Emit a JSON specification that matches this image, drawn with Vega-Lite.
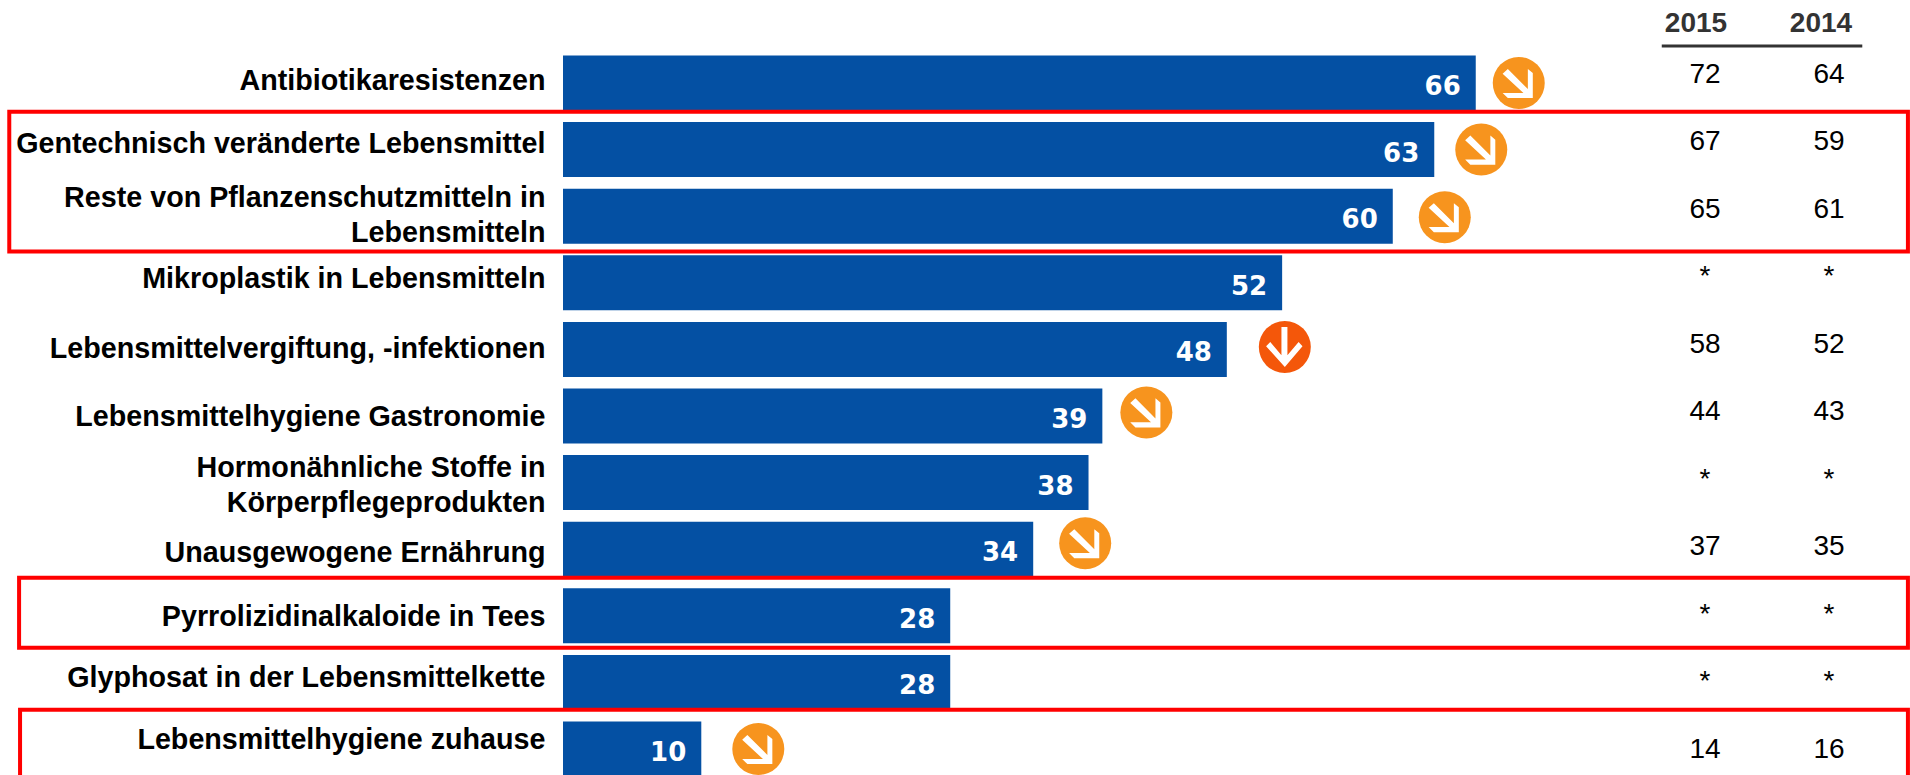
{
"$schema":"https://vega.github.io/schema/vega-lite/v6.json",
"width":1910,"height":775,"autosize":"none","padding":0,
"background":"white",
"config":{"view":{"stroke":null},"font":"Liberation Sans"},
"datasets":{
"rows":[
{"item":"Antibiotikaresistenzen","wert":66,"trend":"leicht","w2015":"72","w2014":"64"},
{"item":"Gentechnisch veränderte Lebensmittel","wert":63,"trend":"leicht","w2015":"67","w2014":"59"},
{"item":"Reste von Pflanzenschutzmitteln in|Lebensmitteln","wert":60,"trend":"leicht","w2015":"65","w2014":"61"},
{"item":"Mikroplastik in Lebensmitteln","wert":52,"trend":null,"w2015":"*","w2014":"*"},
{"item":"Lebensmittelvergiftung, -infektionen","wert":48,"trend":"stark","w2015":"58","w2014":"52"},
{"item":"Lebensmittelhygiene Gastronomie","wert":39,"trend":"leicht","w2015":"44","w2014":"43"},
{"item":"Hormonähnliche Stoffe in|Körperpflegeprodukten","wert":38,"trend":null,"w2015":"*","w2014":"*"},
{"item":"Unausgewogene Ernährung","wert":34,"trend":"leicht","w2015":"37","w2014":"35"},
{"item":"Pyrrolizidinalkaloide in Tees","wert":28,"trend":null,"w2015":"*","w2014":"*"},
{"item":"Glyphosat in der Lebensmittelkette","wert":28,"trend":null,"w2015":"*","w2014":"*"},
{"item":"Lebensmittelhygiene zuhause","wert":10,"trend":"leicht","w2015":"14","w2014":"16"}
],
"boxes":[
{"links":-40.04,"rechts":97.25,"von":0.93,"bis":3.03},
{"links":-39.33,"rechts":97.25,"von":7.93,"bis":8.98},
{"links":-39.26,"rechts":97.25,"von":9.91,"bis":11.5}
]
},
"resolve":{"scale":{"x":"independent","y":"independent","shape":"independent","color":"independent"}},
"layer":[
{
"data":{"name":"rows"},
"mark":{"type":"bar","color":"#0450A3"},
"encoding":{
"x":{"field":"wert","type":"quantitative","scale":{"domain":[-40.71,97.4],"range":[0,1910],"nice":false,"zero":false},"axis":null},
"y":{"field":"item","type":"nominal","sort":null,
"scale":{"range":[49.7,782.3],"paddingInner":0.174,"paddingOuter":0.087},
"axis":{"orient":"left","offset":-545,"title":null,"domain":false,"ticks":false,"labelPadding":0,
"labelOffset":{"expr":"{'Antibiotikaresistenzen':-1.6,'Gentechnisch veränderte Lebensmittel':-5.2,'Reste von Pflanzenschutzmitteln in|Lebensmitteln':-18.5,'Mikroplastik in Lebensmitteln':-4,'Lebensmittelvergiftung, -infektionen':-0.4,'Lebensmittelhygiene Gastronomie':1,'Hormonähnliche Stoffe in|Körperpflegeprodukten':-15,'Unausgewogene Ernährung':3.3,'Pyrrolizidinalkaloide in Tees':1,'Glyphosat in der Lebensmittelkette':-4,'Lebensmittelhygiene zuhause':-9}[datum.value]"},
"labelFont":"Liberation Sans","labelFontWeight":"bold","labelFontSize":28.7,"labelColor":"#000000","labelLimit":700,"labelLineHeight":35,"labelExpr":"split(datum.label,'|')"}}
}
},
{
"data":{"name":"rows"},
"mark":{"type":"text","align":"right","baseline":"middle","dx":-15,"dy":4,"font":"DejaVu Sans","fontWeight":"bold","fontSize":26,"color":"white"},
"encoding":{
"x":{"field":"wert","type":"quantitative","scale":{"domain":[-40.71,97.4],"range":[0,1910],"nice":false,"zero":false},"axis":null},
"y":{"field":"item","type":"nominal","sort":null,"scale":{"range":[49.7,782.3],"paddingInner":0.174,"paddingOuter":0.087},"axis":null},
"text":{"field":"wert","type":"quantitative"}
}
},
{
"data":{"name":"rows"},
"transform":[{"filter":"datum.trend != null"}],
"mark":{"type":"point","filled":true,"shape":"circle","size":2704,"opacity":1,"xOffset":{"expr":"{'66':43,'63':47,'60':52,'48':58,'39':44,'34':52,'10':57}[datum.wert]"},"yOffset":{"expr":"{'66':0,'63':0,'60':1,'48':-2.4,'39':-3.6,'34':-6,'10':0}[datum.wert]"}},
"encoding":{
"x":{"field":"wert","type":"quantitative","scale":{"domain":[-40.71,97.4],"range":[0,1910],"nice":false,"zero":false},"axis":null},
"y":{"field":"item","type":"nominal","sort":null,"scale":{"domain":["Antibiotikaresistenzen","Gentechnisch veränderte Lebensmittel","Reste von Pflanzenschutzmitteln in|Lebensmitteln","Mikroplastik in Lebensmitteln","Lebensmittelvergiftung, -infektionen","Lebensmittelhygiene Gastronomie","Hormonähnliche Stoffe in|Körperpflegeprodukten","Unausgewogene Ernährung","Pyrrolizidinalkaloide in Tees","Glyphosat in der Lebensmittelkette","Lebensmittelhygiene zuhause"],"range":[49.7,782.3],"paddingInner":0.174,"paddingOuter":0.087},"axis":null},
"color":{"field":"trend","type":"nominal","legend":null,"scale":{"domain":["leicht","stark"],"range":["#F7941E","#F4570A"]}}
}
},
{
"data":{"name":"rows"},
"transform":[{"filter":"datum.trend != null"}],
"mark":{"type":"point","filled":true,"size":2704,"color":"white","opacity":1,"xOffset":{"expr":"{'66':43,'63':47,'60':52,'48':58,'39':44,'34':52,'10':57}[datum.wert]"},"yOffset":{"expr":"{'66':0,'63':0,'60':1,'48':-2.4,'39':-3.6,'34':-6,'10':0}[datum.wert]"}},
"encoding":{
"x":{"field":"wert","type":"quantitative","scale":{"domain":[-40.71,97.4],"range":[0,1910],"nice":false,"zero":false},"axis":null},
"y":{"field":"item","type":"nominal","sort":null,"scale":{"domain":["Antibiotikaresistenzen","Gentechnisch veränderte Lebensmittel","Reste von Pflanzenschutzmitteln in|Lebensmitteln","Mikroplastik in Lebensmitteln","Lebensmittelvergiftung, -infektionen","Lebensmittelhygiene Gastronomie","Hormonähnliche Stoffe in|Körperpflegeprodukten","Unausgewogene Ernährung","Pyrrolizidinalkaloide in Tees","Glyphosat in der Lebensmittelkette","Lebensmittelhygiene zuhause"],"range":[49.7,782.3],"paddingInner":0.174,"paddingOuter":0.087},"axis":null},
"shape":{"field":"trend","type":"nominal","legend":null,"scale":{"domain":["leicht","stark"],"range":["M-.42 -.54L.35 .23L.35 -.54L.54 -.38L.54 .58L-.42 .58L-.62 .38L.18 .38L-.62 -.36Z","M-.13 -.77L.1 -.77L.1 .32L.53 -.19L.68 -.03L0 .77L-.72 -.03L-.56 -.19L-.13 .32Z"]}}
}
},
{
"data":{"name":"rows"},
"transform":[{"fold":["w2015","w2014"],"as":["jahr","zahl"]}],
"mark":{"type":"text","align":"center","baseline":"middle","fontSize":28,"color":"#000000"},
"encoding":{
"x":{"field":"jahr","type":"nominal","scale":{"type":"point","domain":["w2015","w2014"],"range":[1705,1829],"padding":0},"axis":null},
"y":{"field":"item","type":"nominal","sort":null,"scale":{"range":[41,783.5],"paddingInner":0.174,"paddingOuter":0.087},"axis":null},
"text":{"field":"zahl","type":"nominal"}
}
},
{
"data":{"values":[{"jahr":"2015"},{"jahr":"2014"}]},
"mark":{"type":"text","align":"center","baseline":"middle","fontSize":28,"fontWeight":"bold","color":"#333333"},
"encoding":{
"x":{"field":"jahr","type":"nominal","scale":{"type":"point","domain":["2015","2014"],"range":[1696,1821],"padding":0},"axis":null},
"y":{"datum":-0.385,"type":"quantitative","scale":{"domain":[0,11],"range":[49.7,782.3]},"axis":null},
"text":{"field":"jahr","type":"nominal"}
}
},
{
"data":{"values":[{"von":79.45,"bis":93.95,"zeile":-0.055}]},
"mark":{"type":"rule","color":"#333333","strokeWidth":3},
"encoding":{
"x":{"field":"von","type":"quantitative","scale":{"domain":[-40.71,97.4],"range":[0,1910],"nice":false,"zero":false},"axis":null},
"x2":{"field":"bis"},
"y":{"field":"zeile","type":"quantitative","scale":{"domain":[0,11],"range":[49.7,782.3]},"axis":null}
}
},
{
"data":{"name":"boxes"},
"mark":{"type":"rect","fill":null,"fillOpacity":0,"stroke":"#FF0000","strokeWidth":4},
"encoding":{
"x":{"field":"links","type":"quantitative","scale":{"domain":[-40.71,97.4],"range":[0,1910],"nice":false,"zero":false},"axis":null},
"x2":{"field":"rechts"},
"y":{"field":"von","type":"quantitative","scale":{"domain":[0,11],"range":[49.7,782.3]},"axis":null},
"y2":{"field":"bis"}
}
}
]
}
